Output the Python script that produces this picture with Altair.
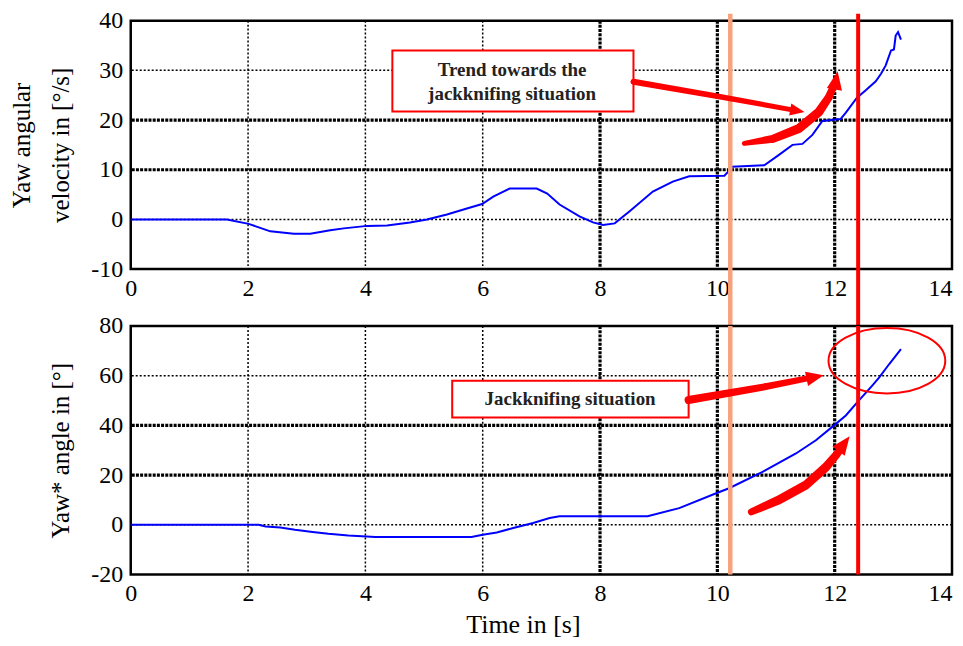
import altair as alt
import pandas as pd

# ---------------- data ----------------
time_top = [0, 1.64, 2.01, 2.38, 2.78, 3.06, 3.4, 3.63, 4.03, 4.37, 4.76, 5.05, 5.39, 5.73,
            5.99, 6.18, 6.46, 6.92, 7.1, 7.31, 7.65, 7.88, 8.05, 8.25, 8.5, 8.9, 9.24, 9.52,
            10.12, 10.2, 10.25, 10.8, 11.05, 11.28, 11.45, 11.62, 11.79, 12.1, 12.19, 12.38,
            12.53, 12.7, 12.79, 12.87, 12.96, 13.01, 13.04, 13.08, 13.13]
yaw_rate = [0, 0, -0.9, -2.4, -2.9, -2.9, -2.2, -1.8, -1.3, -1.2, -0.6, 0, 1.0, 2.2,
            3.1, 4.6, 6.2, 6.2, 5.2, 3.0, 0.6, -0.6, -1.1, -0.8, 1.6, 5.6, 7.6, 8.7,
            8.8, 9.8, 10.6, 10.9, 13.0, 15.0, 15.2, 17.0, 19.8, 20.2, 21.5, 24.5,
            26.0, 27.8, 29.3, 31.0, 34.0, 34.2, 37.0, 37.7, 36.2]

time_bot = [0, 2.18, 2.3, 2.55, 2.8, 3.1, 3.37, 3.71, 4.17, 5.81, 6.0, 6.24, 6.52, 6.86,
            7.14, 7.31, 8.81, 9.35, 9.98, 10.2, 10.77, 11.34, 11.68, 11.99, 12.19, 12.41,
            12.64, 12.76, 12.93, 13.13]
yaw_angle = [0, 0, -0.7, -1.1, -2.0, -2.9, -3.6, -4.3, -4.9, -4.9, -4.0, -3.1, -1.3, 0.7,
             2.7, 3.4, 3.4, 6.7, 12.7, 14.7, 21.3, 28.7, 34.0, 40.0, 44.0, 50.0,
             56.0, 59.3, 64.7, 70.7]

x_ticks = [0, 2, 4, 6, 8, 10, 12, 14]
top_ticks = [-10, 0, 10, 20, 30, 40]
bot_ticks = [-20, 0, 20, 40, 60, 80]
thin_x = [2, 4, 6]
thick_x = [8, 10, 12]
top_thin_y = [0, 30]
top_thick_y = [10, 20]
bot_thin_y = [0, 60]
bot_thick_y = [20, 40]
orange_time = 10.22
red_time = 12.40

top_box_text = ["Trend towards the", "jackknifing situation"]
bot_box_text = ["Jackknifing situation"]

# ---------------- styling ----------------
FONT = "Liberation Serif"
RED = "#ff0000"
W = 823
H_TOP = 249
H_BOT = 249
GAP = 57

xscale = alt.Scale(domain=[0, 14], nice=False, zero=False)


def make_xaxis(title):
    return alt.Axis(values=x_ticks, grid=False, ticks=False, domain=False, labelFont=FONT,
                    labelFontSize=24, labelColor="black", labelPadding=7, labelFlush=False,
                    labelOverlap=False, labelExpr="'' + datum.value",
                    labelAlign={"condition": {"test": "datum.value == 14", "value": "right"},
                                "value": "center"},
                    title=title, titleFont=FONT, titleFontSize=26,
                    titleFontWeight="normal", titleColor="black", titlePadding=6, titleX=393)


def make_yaxis(ticks, title):
    return alt.Axis(values=ticks, grid=False, ticks=False, domain=False, labelFont=FONT,
                    labelFontSize=24, labelColor="black", labelPadding=8, labelFlush=False,
                    labelOverlap=False, labelExpr="'' + datum.value",
                    title=title, titleFont=FONT, titleFontSize=25,
                    titleFontWeight="normal", titleColor="black", titlePadding=17,
                    titleLineHeight=39)


def build_panel(times, values, yscale, yaxis, xaxis, thin_y, thick_y, height, extra):
    X = lambda f: alt.X(f, scale=xscale, axis=xaxis)
    Y = lambda f: alt.Y(f, scale=yscale, axis=yaxis)
    thin_dash = [2, 2]
    thick_dash = [3, 1.2]
    layers = [
        alt.Chart(pd.DataFrame({"x": thin_x})).mark_rule(color="black", strokeWidth=1.5, strokeDash=thin_dash)
        .encode(x=X("x:Q")),
        alt.Chart(pd.DataFrame({"x": thick_x})).mark_rule(color="black", strokeWidth=3.2, strokeDash=thick_dash)
        .encode(x=X("x:Q")),
        alt.Chart(pd.DataFrame({"y": thin_y})).mark_rule(color="black", strokeWidth=1.5, strokeDash=thin_dash)
        .encode(y=Y("y:Q")),
        alt.Chart(pd.DataFrame({"y": thick_y})).mark_rule(color="black", strokeWidth=3.2, strokeDash=thick_dash)
        .encode(y=Y("y:Q")),
    ]
    for kind, spec in extra:
        if kind == "box":
            x0, x1, y0, y1 = spec
            layers.append(alt.Chart(pd.DataFrame({"x": [x0], "x1": [x1], "y": [y0], "y1": [y1]})).mark_rect(
                fill="white", stroke=RED, strokeWidth=2).encode(x=X("x:Q"), x2="x1:Q", y=Y("y:Q"), y2="y1:Q"))
        elif kind == "text":
            lines, xs, ys = spec
            layers.append(alt.Chart(pd.DataFrame({"x": xs, "y": ys, "s": lines})).mark_text(
                font=FONT, fontSize=19, fontWeight="bold", color="#222222", align="center", baseline="middle"
            ).encode(x=X("x:Q"), y=Y("y:Q"), text="s:N"))
        elif kind == "series":
            df = pd.DataFrame({"x": times, "y": values})
            layers.append(alt.Chart(df).mark_line(color="#0000ff", strokeWidth=2).encode(x=X("x:Q"), y=Y("y:Q")))
        elif kind == "vlines":
            y_top_px, y_bot_px = spec
            for t, col, sw in [(orange_time, "#f7a27c", 4.5), (red_time, RED, 4)]:
                layers.append(alt.Chart(pd.DataFrame({"x": [t]})).mark_rule(color=col, strokeWidth=sw)
                              .encode(x=X("x:Q"), y=alt.value(y_top_px), y2=alt.value(y_bot_px)))
        elif kind == "trail":
            xs, ys, ws = spec
            df = pd.DataFrame({"x": xs, "y": ys, "w": ws, "o": list(range(len(xs)))})
            layers.append(alt.Chart(df).mark_trail(color=RED).encode(
                x=X("x:Q"), y=Y("y:Q"), size=alt.Size("w:Q", scale=None, legend=None), order="o:Q"))
        elif kind == "head":
            x, y, ang, size = spec
            layers.append(alt.Chart(pd.DataFrame({"x": [x], "y": [y], "a": [ang]})).mark_point(
                shape="M0,-1L0.75,0.8L-0.75,0.8Z", filled=True, color=RED, opacity=1, size=size, strokeWidth=0
            ).encode(x=X("x:Q"), y=Y("y:Q"), angle=alt.Angle("a:Q", scale=None)))
        elif kind == "ellipse":
            x, y, size = spec
            layers.append(alt.Chart(pd.DataFrame({"x": [x], "y": [y]})).mark_point(
                shape="M-1,0A1,0.56 0 1,1 1,0A1,0.56 0 1,1 -1,0Z", filled=False, color=RED,
                strokeWidth=2, size=size, opacity=1).encode(x=X("x:Q"), y=Y("y:Q")))
    return alt.layer(*layers).properties(width=W, height=height)


# ---------------- top panel ----------------
yscale_top = alt.Scale(domain=[-10, 40], nice=False, zero=False)
top = build_panel(
    time_top, yaw_rate, yscale_top,
    make_yaxis(top_ticks, ["Yaw angular", "velocity in [°/s]"]), make_xaxis(""),
    top_thin_y, top_thick_y, H_TOP,
    [
        ("box", (4.46, 8.57, 34.0, 21.7)),
        ("text", (top_box_text, [6.5, 6.5], [30.0, 25.2])),
        ("series", None),
        ("vlines", (-7, H_TOP + GAP)),
        ("trail", ([8.57, 10.0, 11.3], [27.7, 24.8, 22.0], [6, 5.5, 5])),
        ("head", (11.35, 21.9, 100, 260)),
        ("trail", ([10.46, 10.94, 11.39, 11.73, 11.9, 11.99], [15.3, 16.2, 18.3, 21.6, 24.6, 27.0],
                   [5, 8, 9, 9, 8, 7])),
        ("head", (12.02, 27.8, 10, 420)),
    ],
)

# ---------------- bottom panel ----------------
yscale_bot = alt.Scale(domain=[-20, 80], nice=False, zero=False)
bottom = build_panel(
    time_bot, yaw_angle, yscale_bot,
    make_yaxis(bot_ticks, "Yaw* angle in [°]"), make_xaxis("Time in [s]"),
    bot_thin_y, bot_thick_y, H_BOT,
    [
        ("box", (5.48, 9.51, 58.0, 43.2)),
        ("text", (bot_box_text, [7.49], [50.6])),
        ("series", None),
        ("vlines", (0, H_BOT)),
        ("trail", ([9.51, 10.8, 11.6], [50.2, 55.5, 59.2], [8, 7, 6])),
        ("head", (11.65, 59.4, 78, 380)),
        ("trail", ([10.58, 11.05, 11.51, 11.85, 12.04, 12.12], [5.2, 10.0, 16.0, 23.2, 28.5, 31.0],
                   [7, 9, 9, 9, 8, 7])),
        ("ellipse", (12.89, 66.0, 13689)),
        ("head", (12.15, 32.3, 37, 420)),
    ],
)

chart = alt.vconcat(top, bottom, spacing=GAP, bounds="flush").configure_view(
    stroke="black", strokeWidth=2.5
).configure_axis(
    labelFont=FONT, titleFont=FONT
).properties(padding={"left": 0, "top": -2, "right": 0, "bottom": 0}, background="white")

chart.save("out.html", embed_options={"renderer": "svg", "actions": False})
